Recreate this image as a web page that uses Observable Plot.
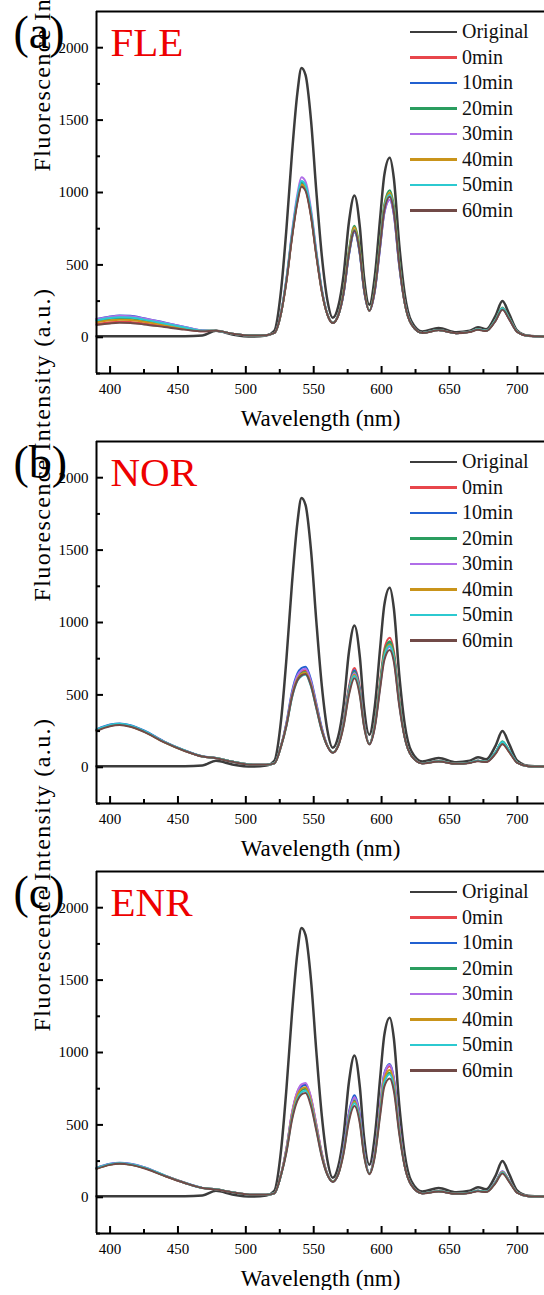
<!DOCTYPE html>
<html><head><meta charset="utf-8">
<script src="https://cdn.jsdelivr.net/npm/d3@7"></script>
<script src="https://cdn.jsdelivr.net/npm/@observablehq/plot@0.6"></script>
<style>
body{margin:0;background:#fff;}
#root{width:544px;position:relative;overflow:hidden;}
.panel{position:relative;width:544px;height:430px;}
.panel svg, .panel svg text{font-family:"Liberation Serif","Times New Roman",serif !important;}
.legend{position:absolute;left:410px;top:19px;font-family:"Liberation Serif","Times New Roman",serif;font-size:20px;color:#111;}
.row{display:flex;align-items:center;height:25.5px;line-height:25.5px;}
.sw{width:47px;height:2.5px;margin-right:5px;}
</style></head><body><div id="root"></div>
<script>
const wavelengths = [390,400,407,415,425,440,455,468,478,490,505,515,521,526,530,534,538,541,544,548,552,556,560,564,568,572,576,580,584,587,591,595,599,602,606,609,613,617,622,630,642,655,665,671,677,684,689,694,700,708,720];
const seriesNames = ["Original","0min","10min","20min","30min","40min","50min","60min"];
const seriesColors = ["#3c3c3c","#e8464b","#2160d0","#2a9d5f","#b06ee8","#c9941a","#2cc9d0","#714a47"];
const panelLetters = ["(a)","(b)","(c)"];
const compounds = ["FLE","NOR","ENR"];
const xTicks = [400,450,500,550,600,650,700];
const xMinorTicks = [425,475,525,575,625,675];
const yTicks = [0,500,1000,1500,2000];
const yMinorTicks = [-250,250,750,1250,1750];
const xLabel = "Wavelength (nm)";
const yLabel = "Fluorescence Intensity (a.u.)";

const original = [8,8,8,8,7,7,7,12, 45,20,5,12,45, 330, 760,1270,1690,1860,1810,1500,1000,560, 260,135,210, 430,800,980,760,420, 225, 420,830,1120,1240,1100,640, 300,110,40,65,35,45,70,55, 150,250,160, 45,10,5];

const fle0  = [92,104,108,106,96,76,56,42, 45,25,12,15,30, 170, 396,693,941,1050,1020,842,565,317, 160,100,150, 308,586,745,586,338, 185, 332,653,895,990,884,513, 240,90,30,50,28,38,55,45, 117,195,127, 38,10,5];
const fle10 = [126,144,150,148,132,102,72,47, 45,25,12,15,30, 170, 400,700,950,1060,1030,850,570,320, 160,100,150, 300,570,725,570,329, 185, 318,627,858,950,849,492, 240,90,30,50,28,38,55,45, 117,195,127, 38,10,5];
const fle20 = [112,127,132,130,117,91,66,45, 45,25,12,15,30, 170, 404,707,959,1070,1040,858,575,323, 160,100,150, 318,606,770,606,349, 185, 340,670,917,1015,907,526, 240,90,30,50,28,38,55,45, 123,205,133, 38,10,5];
const fle30 = [124,142,148,146,130,101,71,47, 45,25,12,15,30, 175, 417,730,990,1105,1074,886,594,334, 162,100,150, 302,574,730,574,331, 185, 318,627,858,950,849,492, 240,90,30,50,28,38,55,45, 120,200,130, 38,10,5];
const fle40 = [103,117,122,120,108,85,62,44, 45,25,12,15,30, 170, 398,697,946,1055,1025,846,567,318, 160,100,150, 314,598,760,598,345, 185, 335,660,904,1000,893,518, 240,90,30,50,28,38,55,45, 120,200,130, 38,10,5];
const fle50 = [117,133,138,136,122,95,68,46, 45,25,12,15,30, 172, 408,713,968,1080,1049,866,581,326, 161,100,150, 306,582,740,582,335, 185, 330,650,890,985,880,510, 240,90,30,50,28,38,55,45, 120,200,130, 38,10,5];
const fle60 = [85,96,100,98,89,71,53,41, 45,25,12,15,30, 168, 392,687,932,1040,1011,834,559,314, 158,98,148, 304,578,735,578,333, 183, 325,640,876,970,867,502, 238,88,30,48,28,36,52,43, 114,190,124, 36,10,5];

const nor0  = [258,290,298,285,250,175,115,75, 64,40,18,18,28, 150, 302,504,625,660,670,584,423,262, 150,103,150, 316,559,685,548,316, 162, 304,607,817,895,806,471, 210,80,28,42,25,32,45,38, 100,170,110, 32,8,5];
const nor10 = [262,295,303,290,254,178,117,76, 64,40,18,18,28, 152, 314,523,648,685,695,606,439,272, 152,103,150, 309,546,670,536,309, 162, 292,583,785,860,774,453, 210,80,28,42,25,32,45,38, 103,175,113, 32,8,5];
const nor20 = [256,288,296,283,248,174,114,75, 64,40,18,18,28, 150, 298,496,615,650,660,576,417,258, 150,103,150, 305,538,660,528,305, 162, 295,590,794,870,783,458, 210,80,28,42,25,32,45,38, 106,180,116, 32,8,5];
const nor30 = [258,290,298,285,250,175,115,75, 64,40,18,18,28, 150, 307,511,634,670,680,593,430,266, 150,103,150, 300,530,650,520,300, 162, 282,563,757,830,748,437, 210,80,28,42,25,32,45,38, 100,170,110, 32,8,5];
const nor40 = [255,287,295,282,247,173,114,74, 64,40,18,18,28, 148, 296,493,611,645,655,571,414,256, 150,103,150, 295,522,640,512,295, 162, 288,577,775,850,766,447, 210,80,28,42,25,32,45,38, 97,165,107, 32,8,5];
const nor50 = [260,293,300,287,252,176,116,75, 64,40,18,18,28, 146, 289,481,597,630,640,558,404,250, 148,102,148, 291,514,630,504,291, 160, 285,570,766,840,757,442, 208,80,28,42,25,32,45,38, 103,175,113, 32,8,5];
const nor60 = [252,284,292,280,245,172,113,74, 62,38,17,18,27, 146, 291,485,601,635,645,563,407,252, 146,100,146, 284,501,615,492,284, 158, 275,549,739,810,730,426, 205,78,27,40,24,30,42,36, 94,160,104, 30,8,5];

const enr0  = [200,228,235,228,205,150,100,65, 55,35,18,18,28, 160, 343,582,728,775,785,686,499,302, 162,110,160, 330,577,690,556,319, 165, 309,627,843,905,812,483, 220,85,28,42,25,32,45,38, 105,175,112, 32,8,5];
const enr10 = [203,231,238,231,208,152,101,65, 55,35,18,18,28, 160, 339,575,719,765,775,677,493,298, 162,110,160, 337,589,705,568,326, 166, 314,638,857,920,826,491, 222,85,28,42,25,32,45,38, 108,180,115, 32,8,5];
const enr20 = [198,226,233,226,203,149,99,64, 55,35,18,18,28, 158, 328,556,695,740,750,656,477,288, 160,110,160, 320,560,670,540,310, 165, 293,596,801,860,772,459, 218,85,28,42,25,32,45,38, 105,175,112, 32,8,5];
const enr30 = [202,230,237,230,207,151,100,65, 55,35,18,18,28, 162, 345,586,732,780,790,691,502,303, 162,110,160, 330,577,690,556,319, 165, 312,634,853,915,821,489, 220,85,28,42,25,32,45,38, 108,180,115, 32,8,5];
const enr40 = [199,227,234,227,204,150,100,65, 55,35,18,18,28, 160, 332,564,705,750,760,664,483,292, 160,110,160, 315,552,660,532,305, 165, 300,610,820,880,790,470, 220,85,28,42,25,32,45,38, 105,175,112, 32,8,5];
const enr50 = [201,229,236,229,206,151,100,65, 55,35,18,18,28, 156, 321,545,681,725,735,643,467,282, 158,108,158, 310,543,650,524,301, 163, 290,589,792,850,763,454, 218,84,28,42,25,32,45,38, 103,172,110, 32,8,5];
const enr60 = [196,224,231,224,201,148,99,64, 54,34,17,18,27, 155, 315,534,668,710,720,629,458,277, 156,106,156, 301,527,630,508,291, 160, 280,568,764,820,736,438, 214,82,27,40,24,30,42,36, 98,165,106, 30,8,5];

const panelSeries = [
  [fle0, fle10, fle20, fle30, fle40, fle50, fle60],
  [nor0, nor10, nor20, nor30, nor40, nor50, nor60],
  [enr0, enr10, enr20, enr30, enr40, enr50, enr60]
];

const root = document.getElementById("root");
const W = 544, H = 430, ML = 96, MR = 0, MT = 11, MB = 57;
const frameW = W - ML - MR, frameH = H - MT - MB;
const SERIF = "Liberation Serif";

panelSeries.forEach((treated, pi) => {
  const all = [original, ...treated];
  const rows = [];
  all.forEach((arr, k) => arr.forEach((v, i) => rows.push({w: wavelengths[i], v, s: seriesNames[k]})));
  const orig = rows.filter(d => d.s === "Original");
  const rest = rows.filter(d => d.s !== "Original");

  const svg = Plot.plot({
    width: W, height: H,
    marginLeft: ML, marginRight: MR, marginTop: MT, marginBottom: MB,
    style: {fontFamily: SERIF, fontSize: "15px", background: "transparent", color: "#000", overflow: "visible"},
    x: {domain: [390, 720]},
    y: {domain: [-250, 2250]},
    color: {domain: seriesNames, range: seriesColors},
    marks: [
      Plot.line(orig, {x: "w", y: "v", z: "s", stroke: "s", strokeWidth: 2.5, curve: "monotone-x"}),
      Plot.line(rest, {x: "w", y: "v", z: "s", stroke: "s", strokeWidth: 2, curve: "monotone-x"}),
      Plot.ruleY([-250, 2250], {stroke: "#000", strokeWidth: 2}),
      Plot.ruleX([390], {stroke: "#000", strokeWidth: 2}),
      Plot.tickX(xTicks, {x: d => d, insetTop: frameH - 7, stroke: "#000", strokeWidth: 2}),
      Plot.tickX(xMinorTicks, {x: d => d, insetTop: frameH - 4, stroke: "#000", strokeWidth: 2}),
      Plot.tickY(yTicks, {y: d => d, insetRight: frameW - 7, stroke: "#000", strokeWidth: 2}),
      Plot.tickY(yMinorTicks, {y: d => d, insetRight: frameW - 4, stroke: "#000", strokeWidth: 2}),
      Plot.axisX({ticks: xTicks, tickSize: 0, tickPadding: 10, label: null, tickFormat: "d", fontFamily: SERIF}),
      Plot.axisY({ticks: yTicks, tickSize: 0, tickPadding: 8, label: null, tickFormat: "d", fontFamily: SERIF}),
      Plot.text([xLabel], {text: d => d, frameAnchor: "bottom", lineAnchor: "bottom", dy: 52, fontSize: 23, fontFamily: SERIF, fill: "#000"}),
      Plot.text([yLabel], {text: d => d, frameAnchor: "left", rotate: -90, dx: -54, dy: -21, fontSize: 24, fontFamily: SERIF, fill: "#000"}),
      Plot.text([panelLetters[pi]], {text: d => d, frameAnchor: "top-left", textAnchor: "start", lineAnchor: "bottom", dx: -83, dy: 36, fontSize: 46, fontFamily: SERIF, fill: "#000"}),
      Plot.text([compounds[pi]], {text: d => d, frameAnchor: "top-left", textAnchor: "start", lineAnchor: "bottom", dx: 14, dy: 44, fontSize: 41, fontFamily: SERIF, fill: "#ee0000"})
    ]
  });
  d3.select(svg).selectAll("text").attr("font-family", SERIF).style("font-family", "'Liberation Serif', serif");
  d3.select(svg).selectAll("text").filter(function() { return this.textContent === yLabel; }).attr("letter-spacing", "1.4px");

  const panel = document.createElement("div");
  panel.className = "panel";
  panel.appendChild(svg);
  const legend = document.createElement("div");
  legend.className = "legend";
  seriesNames.forEach((n, k) => {
    const row = document.createElement("div");
    row.className = "row";
    const sw = document.createElement("span");
    sw.className = "sw";
    sw.style.background = seriesColors[k];
    const t = document.createElement("span");
    t.textContent = n;
    row.appendChild(sw); row.appendChild(t);
    legend.appendChild(row);
  });
  panel.appendChild(legend);
  root.appendChild(panel);
});
</script></body></html>
